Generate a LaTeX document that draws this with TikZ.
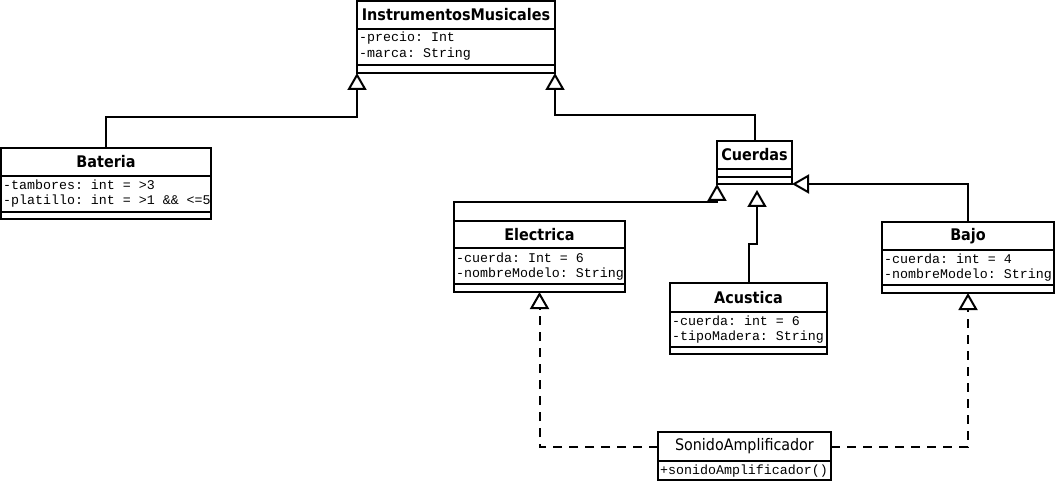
\documentclass[tikz,border=0pt]{standalone}
\usepackage{fontspec}
\setmainfont{DejaVu Sans Condensed}
\setmonofont{Liberation Mono}
\usetikzlibrary{arrows.meta}
\begin{document}
\begin{tikzpicture}[x=1pt,y=-1pt,
  box/.style={draw, line width=2pt, inner sep=0pt, outer sep=0pt, anchor=north west},
  sep/.style={line width=2pt},
  hdr/.style={inner sep=0pt, font=\fontsize{16}{18}\selectfont\bfseries},
  hdrn/.style={inner sep=0pt, font=\fontsize{15.9}{18}\selectfont},
  attr/.style={anchor=west, inner sep=0pt, font=\fontsize{13.3}{15}\selectfont\ttfamily},
  inh/.style={line width=2pt, -{Triangle[open, length=17pt, width=19pt]}},
  real/.style={inh, dash pattern=on 9pt off 7pt}]
\useasboundingbox (0,0) rectangle (1055,481);

% InstrumentosMusicales
\node[box, minimum width=198pt, minimum height=72pt] (im) at (357,1) {};
\node[hdr] (imT) at (456,15) {InstrumentosMusicales};
\draw[sep] (im.west |- 0,29) -- (im.east |- 0,29);
\draw[sep] (im.west |- 0,65) -- (im.east |- 0,65);
\node[attr] (imA1) at (359,38) {-precio: Int};
\node[attr] (imA2) at (359,54) {-marca: String};

% Bateria
\node[box, minimum width=210pt, minimum height=71pt] (bat) at (1,148) {};
\node[hdr] (batT) at (106,162) {Bateria};
\draw[sep] (bat.west |- 0,176) -- (bat.east |- 0,176);
\draw[sep] (bat.west |- 0,212) -- (bat.east |- 0,212);
\node[attr] (batA1) at (3,185) {-tambores: int = >3};
\node[attr] (batA2) at (3,201) {-platillo: int = >1 \&\& <=5};

% Cuerdas
\node[box, minimum width=75pt, minimum height=43pt] (cu) at (717,141) {};
\node[hdr] (cuT) at (754.5,155) {Cuerdas};
\draw[sep] (cu.west |- 0,169) -- (cu.east |- 0,169);
\draw[sep] (cu.west |- 0,177) -- (cu.east |- 0,177);

% Electrica
\node[box, minimum width=171pt, minimum height=71pt] (el) at (454,221) {};
\node[hdr] (elT) at (539.5,235) {Electrica};
\draw[sep] (el.west |- 0,248) -- (el.east |- 0,248);
\draw[sep] (el.west |- 0,284) -- (el.east |- 0,284);
\node[attr] (elA1) at (456,258) {-cuerda: Int = 6};
\node[attr] (elA2) at (456,274) {-nombreModelo: String};

% Acustica
\node[box, minimum width=157pt, minimum height=71pt] (ac) at (670,283) {};
\node[hdr] (acT) at (748.5,297.5) {Acustica};
\draw[sep] (ac.west |- 0,312) -- (ac.east |- 0,312);
\draw[sep] (ac.west |- 0,347) -- (ac.east |- 0,347);
\node[attr] (acA1) at (672,321) {-cuerda: int = 6};
\node[attr] (acA2) at (672,337) {-tipoMadera: String};

% Bajo
\node[box, minimum width=172pt, minimum height=71pt] (ba) at (882,222) {};
\node[hdr] (baT) at (968,236) {Bajo};
\draw[sep] (ba.west |- 0,250) -- (ba.east |- 0,250);
\draw[sep] (ba.west |- 0,285) -- (ba.east |- 0,285);
\node[attr] (baA1) at (884,259) {-cuerda: int = 4};
\node[attr] (baA2) at (884,275) {-nombreModelo: String};

% SonidoAmplificador
\node[box, minimum width=173pt, minimum height=48pt] (so) at (658,432) {};
\node[box, minimum width=173pt, minimum height=29pt] (soH) at (658,432) {};
\node[hdrn] (soT) at (744.5,446.5) {SonidoAmplificador};
\node[attr] (soM) at (660,471) {+sonidoAmplificador()};

% connectors
\coordinate (acTip) at (757,190);
\draw[inh] (bat.north) -- ++(0,-31) -| (im.south west);
\draw[inh] (cu.north) -- ++(0,-26) -| (im.south east);
\draw[inh] (el.north west) -- ++(0,-19) -| (cu.south west);
\draw[inh] (ac.north) -- ++(0,-39) -| (acTip);
\draw[inh] (ba.north) |- (cu.south east);
\draw[real] (soH.west) -| (el.south);
\draw[real] (soH.east) -| (ba.south);
\end{tikzpicture}
\end{document}
